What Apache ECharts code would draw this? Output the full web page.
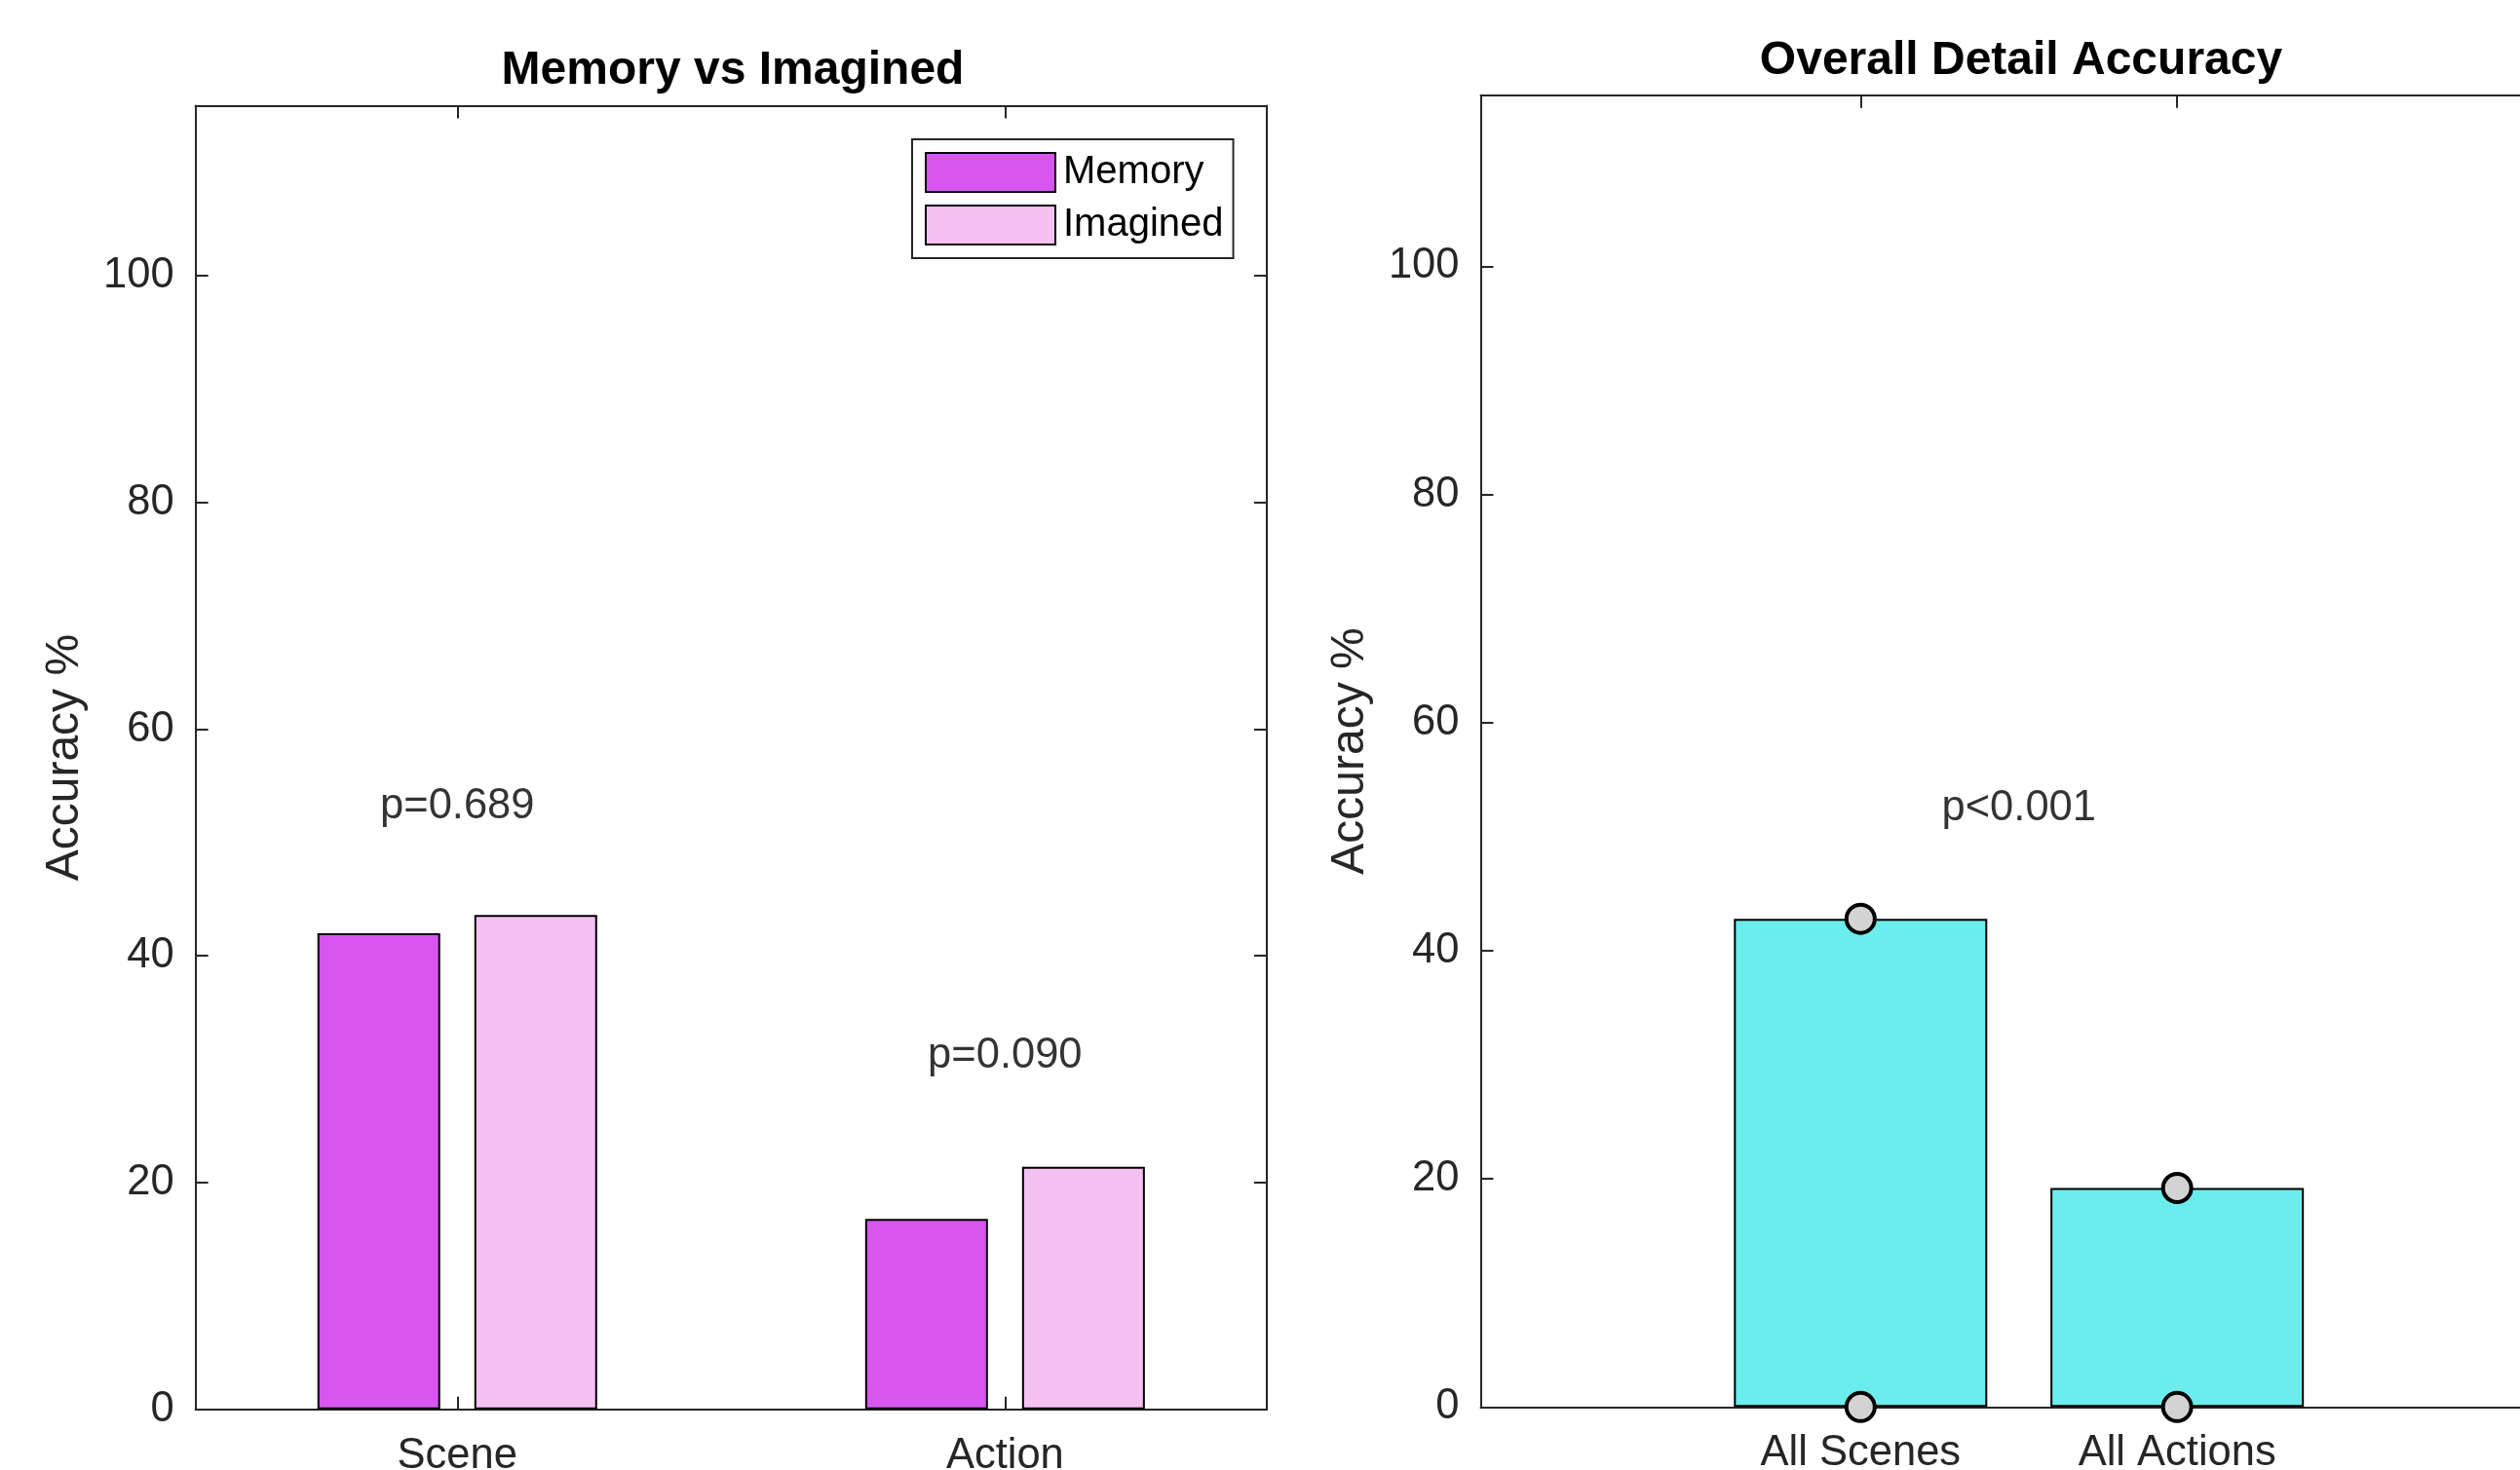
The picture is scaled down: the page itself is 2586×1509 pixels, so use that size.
<!DOCTYPE html>
<html>
<head>
<meta charset="utf-8">
<script src="https://cdn.jsdelivr.net/npm/echarts@6/dist/echarts.min.js"></script>
<style>
html,body{margin:0;padding:0;background:#fff;overflow:hidden;}
#c{width:2586px;height:1509px;}
</style>
</head>
<body>
<div id="c"></div>
<script>
// ---- data ----
const categoriesLeft = ['Scene', 'Action'];
const memoryVals = [42.0, 16.8];
const imaginedVals = [43.6, 21.4];
const pLabelsLeft = ['p=0.689', 'p=0.090'];
const pYLeft = [53.2, 31.2];

const categoriesRight = ['All Scenes', 'All Actions'];
const overallVals = [42.8, 19.2];
const pointsScenes = [42.8, 0];
const pointsActions = [19.2, 0];
const pLabelRight = 'p<0.001';
const pYRight = 52.5;

const yTicks = [0, 20, 40, 60, 80, 100];
const yMax = 115;

// ---- styles ----
const FONT = '"Liberation Sans", Arial, Helvetica, sans-serif';
const AX = '#262626';
const TICK_FS = 43.5;
const TITLE_FS = 48;
const memColor = '#D955F0';
const imgColor = '#F5C1F2';
const cyan = '#6BEDED';
const grey = '#D3D3D3';

const chart = echarts.init(document.getElementById('c'), null, {renderer: 'canvas'});

function xAxisDef(gridIndex, min, max, cats, position, showLabels) {
  const tickVals = cats.map((c, i) => i + 1);
  return {
    type: 'value', gridIndex, min, max, position,
    axisLine: {show: true, onZero: false, lineStyle: {color: AX, width: 2}},
    axisTick: {show: true, inside: true, length: 13, lineStyle: {color: AX, width: 2}, customValues: tickVals},
    axisLabel: {show: showLabels, customValues: tickVals, margin: 26,
      formatter: v => cats[Math.round(v) - 1] || '',
      color: AX, fontSize: TICK_FS, fontFamily: FONT},
    splitLine: {show: false}
  };
}
function yAxisDef(gridIndex, position, showLabels, withName) {
  return {
    type: 'value', gridIndex, min: 0, max: yMax, position,
    name: withName ? 'Accuracy %' : '',
    nameLocation: 'middle', nameGap: 110, nameRotate: 90,
    nameTextStyle: {color: AX, fontSize: TITLE_FS, fontFamily: FONT},
    axisLine: {show: true, onZero: false, lineStyle: {color: AX, width: 2}},
    axisTick: {show: true, inside: true, length: 13, lineStyle: {color: AX, width: 2}, customValues: yTicks},
    axisLabel: {show: showLabels, customValues: yTicks, margin: 22, padding: [6, 0, 0, 0],
      color: AX, fontSize: TICK_FS, fontFamily: FONT},
    splitLine: {show: false}
  };
}

const option = {
  backgroundColor: '#fff',
  animation: false,
  title: [
    {text: 'Memory vs Imagined', left: 747, top: 44, textAlign: 'center',
     textStyle: {fontSize: TITLE_FS, fontWeight: 'bold', color: '#000', fontFamily: FONT}},
    {text: 'Overall Detail Accuracy', left: 2069, top: 34, textAlign: 'center',
     textStyle: {fontSize: TITLE_FS, fontWeight: 'bold', color: '#000', fontFamily: FONT}}
  ],
  legend: {
    data: ['Memory', 'Imagined'],
    orient: 'vertical', left: 936, top: 143,
    itemWidth: 133, itemHeight: 40, itemGap: 12,
    padding: [13, 10, 13, 13],
    borderColor: AX, borderWidth: 2, backgroundColor: '#fff',
    icon: 'rect',
    textStyle: {fontSize: 40, color: '#000', fontFamily: FONT, padding: [6, 2, 0, 3]}
  },
  grid: [
    {left: 200.6, top: 108.5, width: 1099.4, height: 1338.2, outerBoundsMode: 'none', containLabel: false},
    {left: 1519.5, top: 97.7, width: 1104.5, height: 1346.6, outerBoundsMode: 'none', containLabel: false}
  ],
  xAxis: [
    xAxisDef(0, 0.522, 2.478, categoriesLeft, 'bottom', true),
    xAxisDef(0, 0.522, 2.478, categoriesLeft, 'top', false),
    xAxisDef(1, -0.2, 3.2, categoriesRight, 'bottom', true),
    xAxisDef(1, -0.2, 3.2, categoriesRight, 'top', false)
  ],
  yAxis: [
    yAxisDef(0, 'left', true, true),
    yAxisDef(0, 'right', false, false),
    yAxisDef(1, 'left', true, true),
    yAxisDef(1, 'right', false, false)
  ],
  series: [
    {name: 'Memory', type: 'bar', xAxisIndex: 0, yAxisIndex: 0,
     barWidth: 126, barGap: '27.8%',
     itemStyle: {color: memColor, borderColor: '#000', borderWidth: 2},
     data: memoryVals.map((v, i) => [i + 1, v])},
    {name: 'Imagined', type: 'bar', xAxisIndex: 0, yAxisIndex: 0,
     barWidth: 126, barGap: '27.8%',
     itemStyle: {color: imgColor, borderColor: '#000', borderWidth: 2},
     data: imaginedVals.map((v, i) => [i + 1, v])},
    {name: 'pLeft', type: 'scatter', xAxisIndex: 0, yAxisIndex: 0,
     symbolSize: 0, clip: false,
     label: {show: true, position: 'inside', formatter: p => p.data[2],
       color: '#000', fontSize: TICK_FS, fontFamily: FONT},
     data: pLabelsLeft.map((t, i) => [i + 1, pYLeft[i], t])},
    {name: 'Overall', type: 'bar', xAxisIndex: 2, yAxisIndex: 2,
     barWidth: 260,
     itemStyle: {color: cyan, borderColor: '#000', borderWidth: 2},
     data: overallVals.map((v, i) => [i + 1, v])},
    {name: 'Points', type: 'scatter', xAxisIndex: 2, yAxisIndex: 2,
     symbol: 'circle', symbolSize: 29, clip: false, z: 5,
     itemStyle: {color: grey, borderColor: '#000', borderWidth: 4, opacity: 1},
     data: pointsScenes.map(v => [1, v]).concat(pointsActions.map(v => [2, v]))},
    {name: 'pRight', type: 'scatter', xAxisIndex: 2, yAxisIndex: 2,
     symbolSize: 0, clip: false,
     label: {show: true, position: 'inside', formatter: p => p.data[2],
       color: '#000', fontSize: TICK_FS, fontFamily: FONT},
     data: [[1.5, pYRight, pLabelRight]]}
  ]
};
chart.setOption(option);
</script>
</body>
</html>
